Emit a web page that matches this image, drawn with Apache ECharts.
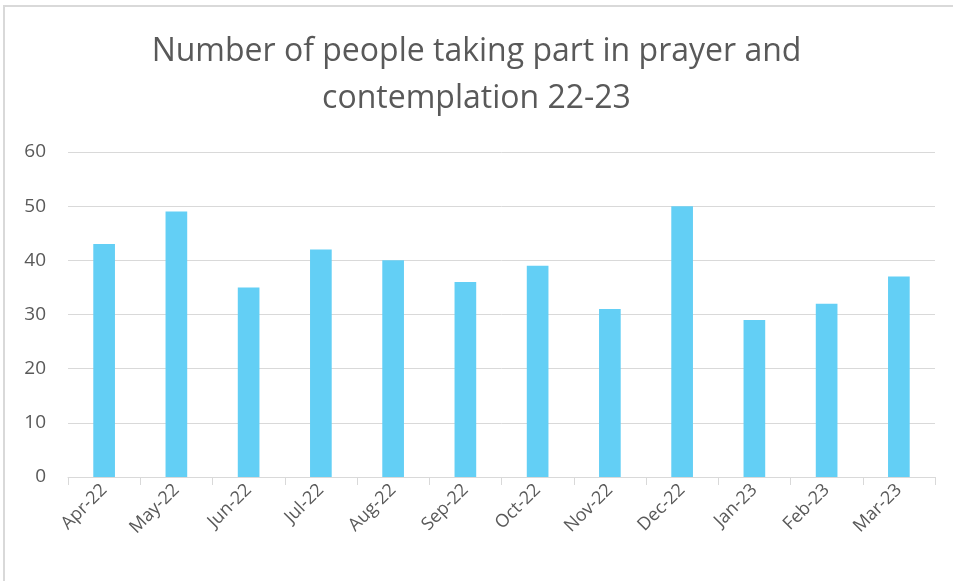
<!DOCTYPE html>
<html lang="en">
<head>
<meta charset="utf-8">
<title>Prayer and contemplation 22-23</title>
<script src="https://cdn.jsdelivr.net/npm/echarts@6/dist/echarts.min.js"></script>
<style>
	html, body { margin: 0; padding: 0; background: #fff; }
	#main { width: 953px; height: 581px; }
</style>
</head>
<body>
	<div id="main"></div>
	<script type="text/javascript">
		var months = ['Apr-22', 'May-22', 'Jun-22', 'Jul-22', 'Aug-22', 'Sep-22',
			'Oct-22', 'Nov-22', 'Dec-22', 'Jan-23', 'Feb-23', 'Mar-23'];
		var people = [43, 49, 35, 42, 40, 36, 39, 31, 50, 29, 32, 37];

		var myChart = echarts.init(document.getElementById('main'));

		var option = {
			backgroundColor: '#fff',
			animation: false,
			title: {
				text: 'Number of people taking part in prayer and\ncontemplation 22-23',
				left: 'center',
				top: 23,
				textStyle: {
					fontFamily: 'Open Sans',
					fontWeight: 'normal',
					fontSize: 32,
					lineHeight: 47,
					color: '#595959'
				}
			},
			// chart frame, only top and left edges are visible in the picture
			graphic: [
				{ type: 'line', shape: { x1: 3, y1: 6, x2: 953, y2: 6 }, style: { stroke: '#d9d9d9', lineWidth: 2 } },
				{ type: 'line', shape: { x1: 4, y1: 6, x2: 4, y2: 581 }, style: { stroke: '#d9d9d9', lineWidth: 2 } }
			],
			grid: {
				left: 68,
				right: 18,
				top: 152,
				bottom: 104
			},
			xAxis: {
				type: 'category',
				data: months,
				axisLine: { lineStyle: { color: '#d9d9d9', width: 1 } },
				axisTick: { show: true, length: 8, lineStyle: { color: '#d9d9d9' } },
				axisLabel: {
					rotate: 45,
					margin: 10,
					fontFamily: 'Open Sans',
					fontSize: 18,
					color: '#595959'
				}
			},
			yAxis: {
				type: 'value',
				min: 0,
				max: 60,
				interval: 10,
				axisLine: { show: false },
				axisTick: { show: false },
				splitLine: { lineStyle: { color: '#d9d9d9', width: 1 } },
				axisLabel: {
					margin: 22,
					fontFamily: 'Open Sans',
					fontSize: 19,
					color: '#595959'
				}
			},
			series: [
				{
					name: 'People',
					type: 'bar',
					data: people,
					barWidth: '30%',
					itemStyle: { color: '#63cff5' }
				}
			]
		};

		myChart.setOption(option);
	</script>
</body>
</html>
